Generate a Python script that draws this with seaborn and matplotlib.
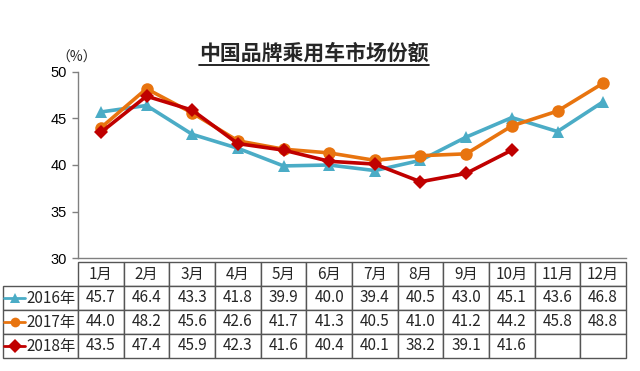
import numpy as np
import pandas as pd
import matplotlib
matplotlib.use("Agg")
import matplotlib.pyplot as plt
import seaborn as sns
from matplotlib.lines import Line2D

# data
months = ['1月', '2月', '3月', '4月', '5月', '6月', '7月', '8月', '9月', '10月', '11月', '12月']
years = ['2016年', '2017年', '2018年']
share_2016 = [45.7, 46.4, 43.3, 41.8, 39.9, 40.0, 39.4, 40.5, 43.0, 45.1, 43.6, 46.8]
share_2017 = [44.0, 48.2, 45.6, 42.6, 41.7, 41.3, 40.5, 41.0, 41.2, 44.2, 45.8, 48.8]
share_2018 = [43.5, 47.4, 45.9, 42.3, 41.6, 40.4, 40.1, 38.2, 39.1, 41.6, np.nan, np.nan]

colors = ['#4BACC6', '#E8740F', '#C00000']
markers = ['^', 'o', 'D']
msizes = [9, 9, 7.5]

sns.set_theme(style='ticks')
plt.rcParams['font.family'] = ['Noto Sans CJK SC', 'DejaVu Sans']

W, H = 640, 371
fig = plt.figure(figsize=(W / 100, H / 100), dpi=100)
# axes placed in pixels: x 78..626, y 72..258
ax = fig.add_axes([78 / W, 1 - 258 / H, 548 / W, 186 / H])

series = [share_2016, share_2017, share_2018]
for i, (yr, vals) in enumerate(zip(years, series)):
    d = pd.DataFrame({'month': np.arange(12), 'share': vals}).dropna()
    sns.lineplot(data=d, x='month', y='share', color=colors[i], marker=markers[i],
                 markersize=msizes[i], markeredgewidth=0, lw=2.6, ax=ax, zorder=3 + i)

ax.set_xlim(-0.5, 11.5)
ax.set_ylim(30, 50)
ax.set_yticks([30, 35, 40, 45, 50])
ax.set_xticks([])
ax.set_xlabel('')
ax.set_ylabel('')
for s in ['top', 'right']:
    ax.spines[s].set_visible(False)
for s in ['left', 'bottom']:
    ax.spines[s].set_color('#808080')
    ax.spines[s].set_linewidth(1)
ax.tick_params(axis='y', length=4, width=1, color='#808080', labelsize=10.5, pad=4, labelcolor='black')
for lbl in ax.get_yticklabels():
    lbl.set_family('Liberation Sans')

fig.text(77 / W, 1 - 58 / H, '（%）', fontsize=10, ha='center', va='center')

# data table under the axis
cell_text = [[''] + months]
for yr, vals in zip(years, series):
    cell_text.append([yr] + ['' if np.isnan(v) else f'{v:.1f}' for v in vals])

tbl = ax.table(cellText=cell_text, colWidths=[75] + [548 / 12] * 12, cellLoc='center',
               bbox=[-75 / 548, -100 / 186, 623 / 548, 96 / 186])
tbl.auto_set_font_size(False)
tbl.set_fontsize(11)
for (r, c), cell in tbl.get_celld().items():
    cell.set_edgecolor('#555555')
    cell.set_linewidth(1)
    if r == 0 and c == 0:
        cell.visible_edges = ''
    if c == 0 and r > 0:
        cell.get_text().set_horizontalalignment('right')
        cell.PAD = 0.03

# legend keys in the row label cells
for i in range(3):
    yc = 1 - (262 + 24 * (i + 1) + 12) / H
    key = Line2D([4 / W, 15 / W, 25 / W], [yc, yc, yc], transform=fig.transFigure,
                 color=colors[i], lw=2, marker=markers[i], markersize=7, markeredgewidth=0,
                 markevery=[1])
    fig.add_artist(key)

title = fig.text(314 / W, 1 - 53 / H, '中国品牌乘用车市场份额', fontsize=15,
                 fontweight='bold', ha='center', va='center')
fig.canvas.draw()
bb = title.get_window_extent()
fig.add_artist(Line2D([bb.x0 / W, bb.x1 / W], [(bb.y0 - 1) / H, (bb.y0 - 1) / H],
                      transform=fig.transFigure, color='black', lw=1.2))

fig.savefig('out.png', dpi=100)
